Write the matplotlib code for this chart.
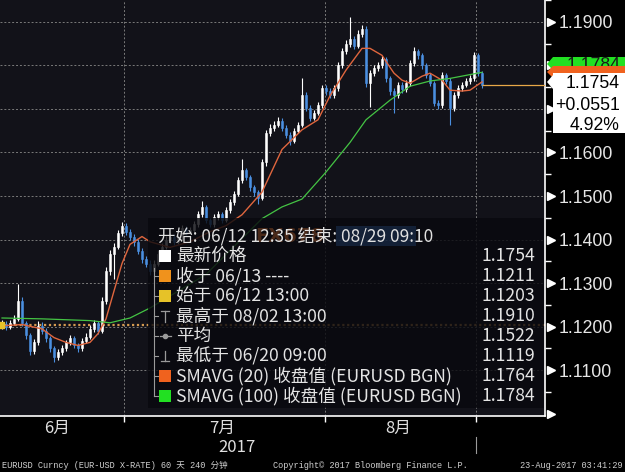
import numpy as np
import matplotlib.pyplot as plt
from matplotlib.transforms import Affine2D, blended_transform_factory
from matplotlib.patches import Rectangle, Polygon

# 240-minute EURUSD bars, 06/12 - 08/23
start_open = 1.1203
close = [1.1207, 1.1200, 1.1209, 1.1218, 1.1259, 1.1209, 1.1180, 1.1145, 1.1164, 1.1202,
         1.1191, 1.1173, 1.1150, 1.1130, 1.1141, 1.1150, 1.1164, 1.1173, 1.1157, 1.1150,
         1.1168, 1.1177, 1.1195, 1.1209, 1.1191, 1.1259, 1.1327, 1.1368, 1.1384, 1.1414,
         1.1432, 1.1418, 1.1405, 1.1395, 1.1373, 1.1355, 1.1345, 1.1327, 1.1345, 1.1368,
         1.1384, 1.1400, 1.1407, 1.1395, 1.1405, 1.1427, 1.1418, 1.1423, 1.1436, 1.1459,
         1.1475, 1.1445, 1.1436, 1.1452, 1.1459, 1.1445, 1.1468, 1.1486, 1.1505, 1.1536,
         1.1559, 1.1543, 1.1520, 1.1509, 1.1495, 1.1577, 1.1645, 1.1657, 1.1664, 1.1673,
         1.1657, 1.1641, 1.1627, 1.1650, 1.1664, 1.1732, 1.1702, 1.1680, 1.1691, 1.1709,
         1.1748, 1.1741, 1.1732, 1.1748, 1.1800, 1.1832, 1.1850, 1.1861, 1.1845, 1.1873,
         1.1884, 1.1759, 1.1782, 1.1793, 1.1800, 1.1814, 1.1770, 1.1741, 1.1732, 1.1755,
         1.1745, 1.1759, 1.1805, 1.1832, 1.1823, 1.1800, 1.1777, 1.1759, 1.1714, 1.1709,
         1.1777, 1.1764, 1.1702, 1.1732, 1.1748, 1.1755, 1.1764, 1.1770, 1.1823, 1.1782,
         1.1754]
high = [1.1215, 1.1212, 1.1216, 1.1226, 1.1298, 1.1268, 1.1214, 1.1186, 1.1171, 1.1212,
        1.1210, 1.1196, 1.1178, 1.1156, 1.1148, 1.1158, 1.1170, 1.1182, 1.1178, 1.1162,
        1.1174, 1.1185, 1.1203, 1.1215, 1.1214, 1.1268, 1.1336, 1.1377, 1.1392, 1.1422,
        1.1441, 1.1438, 1.1424, 1.1412, 1.1401, 1.1380, 1.1362, 1.1352, 1.1352, 1.1376,
        1.1392, 1.1408, 1.1416, 1.1412, 1.1413, 1.1434, 1.1432, 1.1430, 1.1443, 1.1466,
        1.1489, 1.1480, 1.1450, 1.1459, 1.1466, 1.1464, 1.1475, 1.1493, 1.1512, 1.1544,
        1.1584, 1.1565, 1.1548, 1.1526, 1.1514, 1.1585, 1.1652, 1.1666, 1.1672, 1.1682,
        1.1678, 1.1662, 1.1646, 1.1657, 1.1671, 1.1770, 1.1738, 1.1708, 1.1698, 1.1716,
        1.1756, 1.1755, 1.1748, 1.1755, 1.1808, 1.1840, 1.1858, 1.1910, 1.1868, 1.1880,
        1.1892, 1.1890, 1.1790, 1.1800, 1.1808, 1.1822, 1.1820, 1.1776, 1.1748, 1.1762,
        1.1762, 1.1766, 1.1812, 1.1842, 1.1838, 1.1828, 1.1806, 1.1783, 1.1765, 1.1720,
        1.1784, 1.1783, 1.1770, 1.1739, 1.1755, 1.1762, 1.1771, 1.1778, 1.1830, 1.1828,
        1.1788]
low = [1.1195, 1.1192, 1.1194, 1.1203, 1.1212, 1.1202, 1.1172, 1.1135, 1.1138, 1.1158,
       1.1184, 1.1166, 1.1142, 1.1119, 1.1124, 1.1135, 1.1144, 1.1158, 1.1150, 1.1141,
       1.1145, 1.1162, 1.1171, 1.1188, 1.1184, 1.1186, 1.1252, 1.1318, 1.1310, 1.1378,
       1.1408, 1.1410, 1.1398, 1.1386, 1.1366, 1.1346, 1.1336, 1.1318, 1.1320, 1.1340,
       1.1362, 1.1378, 1.1393, 1.1388, 1.1389, 1.1400, 1.1411, 1.1412, 1.1417, 1.1430,
       1.1452, 1.1438, 1.1428, 1.1430, 1.1446, 1.1438, 1.1440, 1.1462, 1.1480, 1.1500,
       1.1530, 1.1536, 1.1512, 1.1500, 1.1482, 1.1490, 1.1570, 1.1638, 1.1650, 1.1658,
       1.1650, 1.1634, 1.1616, 1.1622, 1.1645, 1.1658, 1.1695, 1.1672, 1.1674, 1.1686,
       1.1703, 1.1733, 1.1724, 1.1726, 1.1742, 1.1795, 1.1826, 1.1843, 1.1838, 1.1840,
       1.1866, 1.1750, 1.1705, 1.1775, 1.1786, 1.1795, 1.1762, 1.1733, 1.1690, 1.1726,
       1.1736, 1.1738, 1.1752, 1.1798, 1.1815, 1.1792, 1.1770, 1.1752, 1.1706, 1.1700,
       1.1703, 1.1757, 1.1664, 1.1696, 1.1726, 1.1742, 1.1750, 1.1758, 1.1765, 1.1775,
       1.1748]

sma20_idx = [0, 5, 10, 13, 16, 19, 22, 24, 26, 28, 30, 32, 35, 37, 42, 47, 52, 56, 60, 65,
             70, 75, 79, 82, 86, 90, 92, 95, 96, 98, 100, 102, 105, 107, 110, 112, 115, 117, 120]
sma20_val = [1.1202, 1.1205, 1.1195, 1.1175, 1.1164, 1.1157, 1.1164, 1.1184, 1.1218, 1.1282,
             1.1345, 1.1389, 1.1407, 1.1395, 1.1382, 1.1395, 1.1418, 1.1432, 1.1457, 1.1509,
             1.1607, 1.1652, 1.1675, 1.1730, 1.1789, 1.1839, 1.1839, 1.1823, 1.1809, 1.1782,
             1.1766, 1.1759, 1.1775, 1.1782, 1.1766, 1.1743, 1.1741, 1.1743, 1.1762]
sma100_idx = [0, 10, 22, 27, 32, 37, 51, 65, 70, 75, 81, 87, 91, 97, 102, 107, 112, 120]
sma100_val = [1.1220, 1.1218, 1.1214, 1.1209, 1.1220, 1.1243, 1.1320, 1.1448, 1.1475, 1.1493,
              1.1555, 1.1623, 1.1675, 1.1720, 1.1752, 1.1764, 1.1770, 1.1784]

last_price = 1.1754
month_labels = ['6月', '7月', '8月']
month_pos = [13.75, 55, 99]
month_edges = [30.5, 80.75, 118.5]
yticks = [1.11, 1.12, 1.13, 1.14, 1.15, 1.16, 1.17, 1.18, 1.19]
ylabels = ['1.1100', '1.1200', '1.1300', '1.1400', '1.1500', '1.1600', '', '1.1800', '1.1900']

legend_labels = ['最新价格', '收于 06/13 ----', '始于 06/12 13:00', '最高于 08/02 13:00', '平均',
                 '最低于 06/20 09:00', 'SMAVG (20) 收盘值 (EURUSD BGN)', 'SMAVG (100) 收盘值 (EURUSD BGN)']
legend_values = ['1.1754', '1.1211', '1.1203', '1.1910', '1.1522', '1.1119', '1.1764', '1.1784']
legend_colors = ['white', '#f0921c', '#e6c228', None, None, None, '#f0621e', '#22e022']

CJK = ['Noto Sans CJK SC', 'DejaVu Sans']
MONO = ['Liberation Mono', 'Noto Sans CJK SC']

fig = plt.figure(figsize=(6.25, 4.72), dpi=100, facecolor='black')
px = Affine2D().scale(1 / 625, -1 / 472).translate(0, 1) + fig.transFigure
ax = fig.add_axes([0, 1 - 416 / 472, 545 / 625, 416 / 472])
ax.set_facecolor('#121219')

o = np.array([start_open] + close[:-1])
c = np.array(close)
h = np.array(high)
l = np.array(low)
x = np.arange(len(c))
up = c >= o
dn = ~up
blue = '#4a8fe0'

for v in yticks:
    ax.axhline(v, color='#7a7a7a', lw=0.7, ls=(0, (2, 2)), zorder=0)
for e in month_edges:
    ax.axvline(e, color='#7a7a7a', lw=0.7, ls=(0, (2, 2)), zorder=0)

ax.axhline(start_open, color='#d49a50', lw=1.6, ls=(0, (1, 1.2)), zorder=1)

ax.vlines(x[up], l[up], h[up], color='white', lw=0.8, zorder=2)
ax.vlines(x[dn], l[dn], h[dn], color=blue, lw=0.8, zorder=2)
ax.bar(x[up], (c - o)[up], bottom=o[up], width=0.7, color='white', edgecolor='white', lw=0.4, zorder=2)
ax.bar(x[dn], (c - o)[dn], bottom=o[dn], width=0.7, color=blue, edgecolor=blue, lw=0.4, zorder=2)

ax.plot(sma20_idx, sma20_val, color='#e0663e', lw=1.0, zorder=3)
ax.plot(sma100_idx, sma100_val, color='#44c444', lw=0.9, zorder=3)
ax.plot([-0.2], [start_open], 's', color='#e8c228', ms=4, zorder=3)

xmax = (545 - 2) / 4
ax.hlines(last_price, x[-1], xmax, color='#e8a848', lw=0.9, zorder=3)

ax.set_xlim(-0.5, xmax)
ax.set_ylim(1.0995, 1.1941)

for s in ['top', 'left']:
    ax.spines[s].set_visible(False)
for s in ['right', 'bottom']:
    ax.spines[s].set_color('white')
    ax.spines[s].set_linewidth(1.2)

ax.yaxis.tick_right()
ax.set_yticks(yticks)
ax.set_yticklabels(ylabels, family='Liberation Sans')
ax.set_yticks([v + 0.005 for v in [1.10] + yticks], minor=True)
ax.tick_params(axis='y', which='major', length=0, pad=9.5, labelsize=12.7, labelcolor='#e6e6e6')
ax.tick_params(axis='y', which='minor', length=4, width=1, color='white')
ax.set_xticks(month_edges)
ax.set_xticklabels([])
ax.tick_params(axis='x', length=4, width=1, color='white')

tr = blended_transform_factory(ax.transAxes, ax.transData)
ax.plot([1.011] * (len(yticks) + 1), [1.10] + yticks, ls='none', marker='>', ms=6,
        color='white', transform=tr, clip_on=False)

# price boxes on the right axis
fig.add_artist(Polygon([(547, 64), (553, 57), (625, 57), (625, 75), (553, 75), (553, 70)],
                       closed=True, transform=px, facecolor='#22e022', edgecolor='none', zorder=5))
fig.text(620, 66, '1.1784', transform=px, ha='right', va='center', color='#1a1a1a',
         size=12.7, family='Liberation Sans', zorder=5)
fig.add_artist(Polygon([(547, 72), (553, 66), (625, 66), (625, 78), (553, 78)],
                       closed=True, transform=px, facecolor='#f0621e', edgecolor='none', zorder=6))
fig.add_artist(Polygon([(547, 82), (553, 75), (553, 73), (625, 73), (625, 133), (553, 133), (553, 89)],
                       closed=True, transform=px, facecolor='white', edgecolor='none', zorder=7))
for yy, s in zip([84, 105, 126], ['1.1754', '+0.0551', '4.92%']):
    fig.text(620, yy, s, transform=px, ha='right', va='center', color='black',
             size=12.7, family='Liberation Sans', zorder=8)

# legend panel
fig.add_artist(Rectangle((148, 218), 396, 190, transform=px, facecolor='#09090e',
                         edgecolor='none', alpha=0.82, zorder=3))
fig.text(255, 236, 'FX678', transform=px, va='center', color='#c0642a', alpha=0.35,
         size=14, weight='bold', zorder=3.5)
fig.add_artist(Rectangle((336, 226), 80, 20, transform=px, facecolor='#2a5590',
                         edgecolor='none', alpha=0.3, zorder=3.5))
fig.text(158, 236, '开始: 06/12 12:35 结束: 08/29 09:10', transform=px, va='center',
         color='#e0e0e0', size=12.5, family=CJK, zorder=4)

grey = '#9a9a9a'
row_y = [256 + 20 * k for k in range(len(legend_labels))]
fig.add_artist(plt.Line2D([154, 154], [268, row_y[-1]], transform=px, color=grey, lw=0.8, zorder=4))
for k, (lab, val, col) in enumerate(zip(legend_labels, legend_values, legend_colors)):
    yy = row_y[k]
    if k > 0:
        fig.add_artist(plt.Line2D([154, 158], [yy, yy], transform=px, color=grey, lw=0.8, zorder=4))
    if col is not None:
        fig.add_artist(Rectangle((159, yy - 6), 12, 12, transform=px, facecolor=col,
                                 edgecolor='none', zorder=4))
    fig.text(176, yy, lab, transform=px, va='center', color='#e4e4e4', size=12.7,
             family=CJK, zorder=4)
    fig.text(535, yy, val, transform=px, va='center', ha='right', color='#e4e4e4', size=12.7,
             family=CJK, zorder=4)

# high / average / low icons
yh, ya, yl = row_y[3], row_y[4], row_y[5]
fig.add_artist(plt.Line2D([165, 165], [yh - 5, yh + 6], transform=px, color=grey, lw=0.9, zorder=4))
fig.add_artist(plt.Line2D([161, 169], [yh - 5, yh - 5], transform=px, color=grey, lw=0.9, zorder=4))
fig.add_artist(plt.Line2D([160, 171], [ya, ya], transform=px, color=grey, lw=0.9, zorder=4))
fig.add_artist(plt.Line2D([165], [ya], transform=px, marker='o', ms=3, color=grey, zorder=4))
fig.add_artist(plt.Line2D([165, 165], [yl - 5, yl + 5], transform=px, color=grey, lw=0.9, zorder=4))
fig.add_artist(plt.Line2D([161, 169], [yl + 5, yl + 5], transform=px, color=grey, lw=0.9, zorder=4))

# month labels and footer
for lab, pos in zip(month_labels, month_pos):
    xp = (pos * 4 + 2)
    fig.text(xp, 428, lab, transform=px, ha='center', va='center', color='#e0e0e0',
             size=12, family=CJK)
fig.text(237, 448, '2017', transform=px, ha='center', va='center', color='#e0e0e0',
         size=12, family=CJK)
fig.add_artist(plt.Line2D([476, 476], [437, 453], transform=px, color='#9a9a9a', lw=0.8))

fig.text(2, 465, 'EURUSD Curncy (EUR-USD X-RATE) 60 天 240 分钟', transform=px, va='center',
         color='#cfcfcf', size=6.2, family=MONO)
fig.text(468, 465, 'Copyright© 2017 Bloomberg Finance L.P.', transform=px, va='center', ha='right',
         color='#cfcfcf', size=6.2, family=MONO)
fig.text(623, 465, '23-Aug-2017 03:41:29', transform=px, va='center', ha='right',
         color='#cfcfcf', size=6.2, family=MONO)

fig.savefig('out.png', dpi=100, facecolor='black')
